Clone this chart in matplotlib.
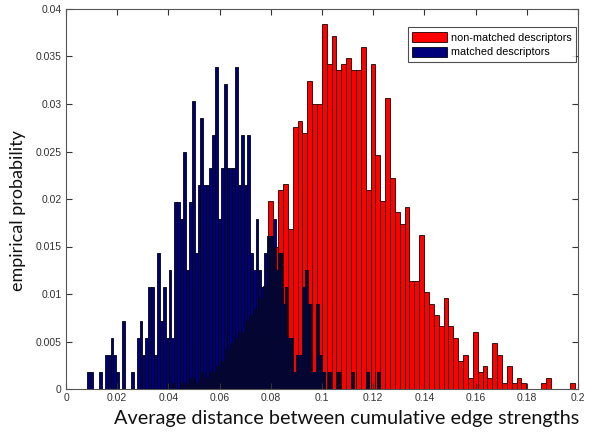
import numpy as np
import matplotlib
matplotlib.use("Agg")
from matplotlib import pyplot as plt

# non-matched descriptors: counts per bin (bins of equal width, starting at red_start)
red_start = 0.04098
red_width = 0.001902
red_counts = np.array([
    1, 0, 1, 1, 2, 1, 3, 2, 3, 4, 5, 7, 8, 9, 10, 12, 13, 14, 16, 18,
    33, 25, 35, 36, 28, 46, 47, 45, 54, 50, 50, 64, 57, 62, 56, 57, 58, 56, 56, 60,
    35, 57, 41, 33, 51, 37, 31, 29, 32, 19, 19, 27, 17, 15, 13, 11, 16, 11, 9, 5,
    6, 2, 10, 3, 4, 2, 8, 6, 1, 4, 1, 2, 1, 0, 0, 0, 1, 2, 0, 0, 0, 0, 1,
])

# matched descriptors
blue_start = 0.00832
blue_width = 0.001133
blue_counts = np.array([
    1, 1, 0, 0, 1, 0, 2, 2, 3, 2, 1, 0, 4, 0, 0, 1, 0, 3, 4, 2,
    3, 6, 6, 2, 8, 4, 6, 3, 7, 3, 11, 11, 10, 14, 7, 11, 17, 8, 12, 16,
    12, 12, 13, 15, 19, 10, 13, 18, 13, 13, 13, 19, 12, 15, 12, 15, 8, 7, 10, 7,
    6, 8, 9, 9, 10, 7, 8, 5, 6, 3, 3, 1, 2, 2, 6, 7, 5, 1, 1, 5,
    2, 1, 0, 1, 0, 0, 1, 0, 0, 0, 0, 1, 0, 0, 0, 0, 1, 0, 0, 0, 1,
])

red_left = red_start + red_width * np.arange(len(red_counts))
blue_left = blue_start + blue_width * np.arange(len(blue_counts))
red_p = red_counts / red_counts.sum()
blue_p = blue_counts / blue_counts.sum()

fig = plt.figure(figsize=(5.95, 4.33), dpi=100)
ax = fig.add_axes([66 / 595, 1 - 389 / 433, 512 / 595, 380 / 433])

ax.bar(red_left, red_p, width=red_width, align="edge", color="#ff0000",
       edgecolor="#200000", linewidth=0.6, label="non-matched descriptors")
ax.bar(blue_left, blue_p, width=blue_width, align="edge", color="#00007a",
       edgecolor="#000010", linewidth=0.6, label="matched descriptors")

# where the two histograms overlap the bars look almost black
edges = np.union1d(np.append(red_left, red_left[-1] + red_width),
                   np.append(blue_left, blue_left[-1] + blue_width))
mids = (edges[:-1] + edges[1:]) / 2
ri = np.floor((mids - red_start) / red_width).astype(int)
bi = np.floor((mids - blue_start) / blue_width).astype(int)
rh = np.where((ri >= 0) & (ri < len(red_p)), red_p[np.clip(ri, 0, len(red_p) - 1)], 0)
bh = np.where((bi >= 0) & (bi < len(blue_p)), blue_p[np.clip(bi, 0, len(blue_p) - 1)], 0)
ax.bar(edges[:-1], np.minimum(rh, bh), width=np.diff(edges), align="edge",
       color="#050532", linewidth=0)

ax.set_xlim(0, 0.2)
ax.set_ylim(0, 0.04)
ax.set_xticks(np.arange(0, 0.2001, 0.02))
ax.set_xticklabels(["0", "0.02", "0.04", "0.06", "0.08", "0.1", "0.12",
                    "0.14", "0.16", "0.18", "0.2"])
ax.set_yticks(np.arange(0, 0.04001, 0.005))
ax.set_yticklabels(["0", "0.005", "0.01", "0.015", "0.02", "0.025", "0.03",
                    "0.035", "0.04"])
ax.tick_params(direction="in", top=True, right=True, length=4, width=0.8,
               labelsize=7.5, colors="#333333", labelcolor="#333333", pad=3)
for label in ax.get_xticklabels() + ax.get_yticklabels():
    label.set_family("Liberation Sans")
for s in ax.spines.values():
    s.set_color("#555555")
    s.set_linewidth(0.8)

ax.set_xlabel("Average distance between cumulative edge strengths",
              family="Lato", fontsize=14.3, color="#111111")
ax.set_ylabel("empirical probability", family="Lato", fontsize=13,
              color="#111111")
ax.xaxis.set_label_coords(0.549, -0.056)
ax.yaxis.set_label_coords(-0.078, 0.47)

leg = ax.legend(loc="upper right", bbox_to_anchor=(0.997, 0.952),
                prop={"family": "Liberation Sans", "size": 7.8},
                frameon=True, fancybox=False, borderpad=0.45,
                handlelength=3.2, handleheight=1.05, handletextpad=0.35,
                labelspacing=0.35, borderaxespad=0)
leg.get_frame().set_edgecolor("#222222")
leg.get_frame().set_linewidth(0.8)

fig.savefig("out.png", dpi=100)
